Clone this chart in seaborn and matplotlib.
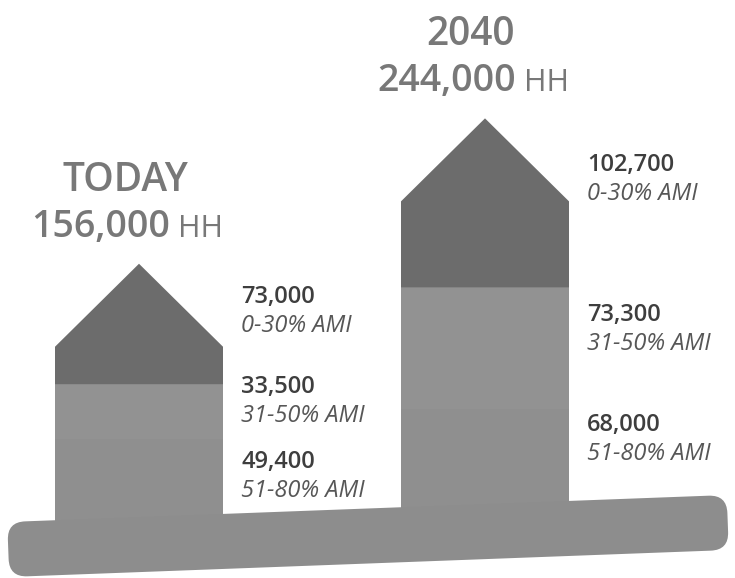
import matplotlib
matplotlib.use("Agg")
import matplotlib.pyplot as plt
from matplotlib.patches import Polygon, FancyBboxPatch
from matplotlib.transforms import Affine2D
import seaborn as sns
import pandas as pd

# ==============================================
# Data: households by income band (AMI)
# ==============================================
periods = ["TODAY", "2040"]
bands = ["51-80% AMI", "31-50% AMI", "0-30% AMI"]
hh_51_80 = [49400, 68000]
hh_31_50 = [33500, 73300]
hh_0_30 = [73000, 102700]

# ==============================================
# Styling
# ==============================================
col_bottom = "#8f8f8f"
col_middle = "#929292"
col_top = "#6c6c6c"
col_ground = "#8d8d8d"
col_title = "#787878"
col_value = "#3e3e3e"
col_band = "#575757"

sns.set_theme(style="white")
plt.rcParams["font.family"] = ["Open Sans", "DejaVu Sans"]

W, H, DPI = 735, 578, 100
PT = 72 / DPI  # points per pixel

units_per_px = 606   # household units per pixel
base_px = 521        # pixel row of the zero line (from the top)
bar_gap_px = 346     # distance between house centres
bar_w = 168 / bar_gap_px
roof_h = 83 * units_per_px

# where each value label sits inside its segment (bottom, middle, top)
label_frac = [[0.72, 0.95, 0.72], [0.855, 0.775, 0.725]]

df = pd.DataFrame({"period": periods, "b": hh_51_80, "m": hh_31_50, "t": hh_0_30})
df["bm"] = df["b"] + df["m"]
df["total"] = df["bm"] + df["t"]

fig = plt.figure(figsize=(W / DPI, H / DPI), dpi=DPI)
ax = fig.add_axes([0, 0, 1, 1])

# stacked walls: middle band first, bottom band painted over it
sns.barplot(data=df, x="period", y="bm", color=col_middle, width=bar_w,
            saturation=1, linewidth=0, ax=ax)
sns.barplot(data=df, x="period", y="b", color=col_bottom, width=bar_w,
            saturation=1, linewidth=0, ax=ax)

for i, row in df.iterrows():
    x0, x1 = i - bar_w / 2, i + bar_w / 2
    # top band drawn as the roof (pentagon)
    ax.add_patch(Polygon([(x0, row["bm"]), (x1, row["bm"]),
                          (x1, row["total"] - roof_h), (i, row["total"]),
                          (x0, row["total"] - roof_h)],
                         closed=True, facecolor=col_top, linewidth=0))

    segs = [(0, row["b"]), (row["b"], row["bm"]), (row["bm"], row["total"])]
    vals = [row["b"], row["m"], row["t"]]
    for k, ((lo, hi), v) in enumerate(zip(segs, vals)):
        y = lo + label_frac[i][k] * (hi - lo)
        ax.annotate(f"{v:,}", xy=(x1, y), xytext=(18 * PT, 0),
                    textcoords="offset points", ha="left", va="center",
                    fontsize=17, fontweight="semibold", color=col_value)
        ax.annotate(bands[k], xy=(x1, y), xytext=(18 * PT, -29 * PT),
                    textcoords="offset points", ha="left", va="center",
                    fontsize=17, style="italic", color=col_band)

    # titles above the roof
    ax.annotate(row["period"], xy=(i, row["total"]), xytext=(-14 * PT, 83 * PT),
                textcoords="offset points", ha="center", va="center",
                fontsize=28, fontweight="semibold", color=col_title)
    num = ax.annotate(f"{int(round(row['total'], -3)):,}", xy=(i, row["total"]),
                      xytext=(-38 * PT, 37 * PT), textcoords="offset points",
                      ha="center", va="center", fontsize=27,
                      fontweight="semibold", color=col_title)
    ax.annotate("HH", xy=(1, 0), xycoords=num, xytext=(8 * PT, 2 * PT),
                textcoords="offset points", ha="left", va="bottom",
                fontsize=22, color=col_title)

ax.set_xlim(-139 / bar_gap_px, 1 + (W - 485) / bar_gap_px)
ax.set_ylim(-(H - base_px) * units_per_px, base_px * units_per_px)
ax.axis("off")

# ground strip (pixel coordinates, slightly tilted like the original)
cx, cy = 368, H - 536
ground = FancyBboxPatch((cx - 360, cy - 27.5), 720, 55,
                        boxstyle="round,pad=0,rounding_size=18",
                        facecolor=col_ground, linewidth=0, zorder=5,
                        transform=Affine2D().rotate_deg_around(cx, cy, 2.15))
fig.add_artist(ground)

fig.savefig("out.png", dpi=DPI, facecolor="white")
